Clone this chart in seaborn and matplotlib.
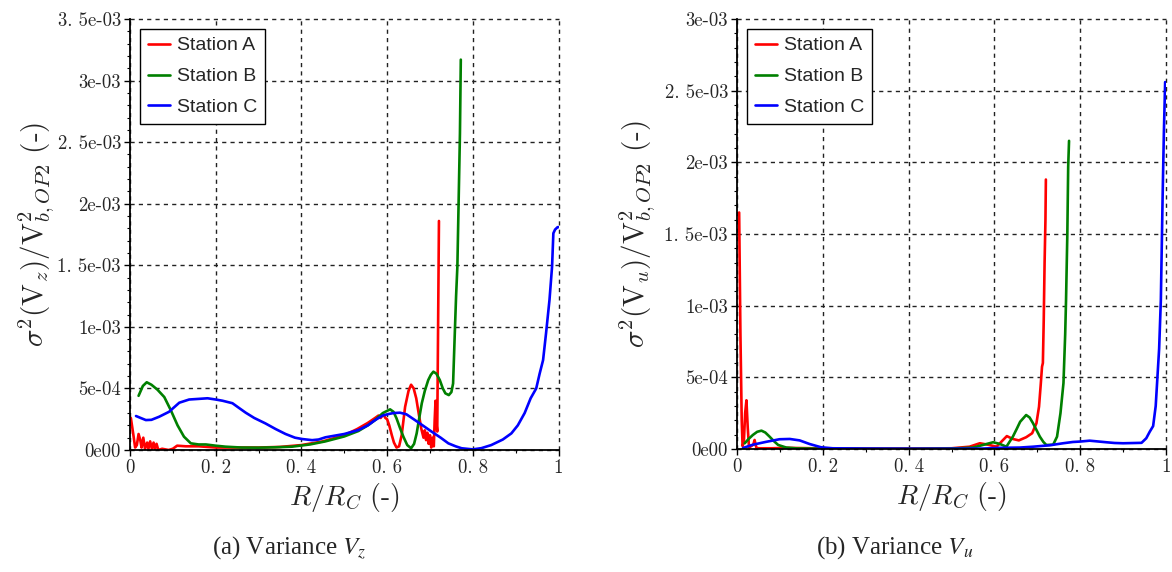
import numpy as np
import pandas as pd
import matplotlib
matplotlib.use("Agg")
import matplotlib.pyplot as plt
from matplotlib.ticker import FixedLocator, MultipleLocator, FixedFormatter
import seaborn as sns

# ---------------- data (variance values in units of 1e-3) ----------------
stations = ["Station A", "Station B", "Station C"]
colors = ["#ff0000", "#008000", "#0000ff"]

vz_a_r = [0.002, 0.008, 0.012, 0.016, 0.020, 0.024, 0.027, 0.031, 0.035, 0.040, 0.043, 0.047,
          0.051, 0.055, 0.058, 0.062, 0.066, 0.075, 0.090, 0.100, 0.110, 0.130, 0.160, 0.200,
          0.250, 0.300, 0.350, 0.400, 0.450, 0.500, 0.530, 0.555, 0.572, 0.580, 0.585, 0.591,
          0.596, 0.600, 0.605, 0.611, 0.616, 0.622, 0.628, 0.634, 0.642, 0.650, 0.656, 0.662,
          0.668, 0.675, 0.680, 0.685, 0.688, 0.691, 0.694, 0.697, 0.700, 0.703, 0.706, 0.709,
          0.711, 0.713, 0.715, 0.717, 0.719, 0.721]
vz_a_v = [0.26, 0.12, 0.02, 0.04, 0.13, 0.08, 0.02, 0.10, 0.01, 0.06, 0.01, 0.07,
          0.01, 0.06, 0.01, 0.05, 0.00, 0.01, 0.00, 0.01, 0.035, 0.03, 0.03, 0.02,
          0.02, 0.02, 0.025, 0.04, 0.07, 0.12, 0.17, 0.22, 0.26, 0.28, 0.26, 0.29,
          0.26, 0.25, 0.20, 0.12, 0.06, 0.02, 0.03, 0.12, 0.35, 0.48, 0.53, 0.50,
          0.42, 0.27, 0.17, 0.10, 0.16, 0.08, 0.14, 0.05, 0.12, 0.02, 0.10, 0.03,
          0.24, 0.40, 0.22, 0.15, 1.00, 1.86]

vz_b_r = [0.020, 0.030, 0.039, 0.050, 0.064, 0.080, 0.095, 0.111, 0.126, 0.142, 0.160, 0.177,
          0.200, 0.223, 0.260, 0.300, 0.340, 0.378, 0.420, 0.456, 0.500, 0.533, 0.555, 0.572,
          0.590, 0.607, 0.615, 0.622, 0.630, 0.638, 0.647, 0.656, 0.663, 0.669, 0.675, 0.681,
          0.688, 0.696, 0.702, 0.708, 0.715, 0.723, 0.730, 0.736, 0.744, 0.750, 0.754, 0.758,
          0.761, 0.764, 0.767, 0.770, 0.772]
vz_b_v = [0.44, 0.52, 0.55, 0.53, 0.49, 0.43, 0.325, 0.20, 0.108, 0.054, 0.045, 0.045,
          0.035, 0.027, 0.020, 0.019, 0.022, 0.027, 0.045, 0.070, 0.11, 0.154, 0.20, 0.243,
          0.30, 0.33, 0.31, 0.257, 0.18, 0.108, 0.04, 0.014, 0.05, 0.135, 0.26, 0.38,
          0.48, 0.568, 0.61, 0.636, 0.62, 0.568, 0.50, 0.46, 0.446, 0.47, 0.54, 0.95,
          1.25, 1.49, 2.03, 2.57, 3.17]

vz_c_r = [0.014, 0.025, 0.037, 0.050, 0.068, 0.091, 0.115, 0.138, 0.160, 0.181, 0.200, 0.216,
          0.239, 0.255, 0.270, 0.290, 0.316, 0.340, 0.363, 0.385, 0.402, 0.425, 0.440, 0.456,
          0.500, 0.533, 0.555, 0.572, 0.590, 0.603, 0.615, 0.630, 0.645, 0.665, 0.685, 0.704,
          0.725, 0.743, 0.760, 0.774, 0.800, 0.820, 0.843, 0.870, 0.890, 0.905, 0.921, 0.935,
          0.948, 0.956, 0.964, 0.971, 0.979, 0.985, 0.988, 0.992, 0.998, 1.000]
vz_c_v = [0.276, 0.26, 0.243, 0.245, 0.27, 0.31, 0.384, 0.41, 0.415, 0.42, 0.41, 0.40,
          0.38, 0.34, 0.303, 0.26, 0.216, 0.17, 0.13, 0.10, 0.089, 0.08, 0.085, 0.103,
          0.13, 0.162, 0.20, 0.243, 0.28, 0.292, 0.30, 0.303, 0.29, 0.243, 0.195, 0.149,
          0.10, 0.054, 0.03, 0.014, 0.005, 0.015, 0.04, 0.085, 0.135, 0.20, 0.30, 0.42,
          0.50, 0.62, 0.73, 0.95, 1.22, 1.49, 1.76, 1.79, 1.81, 1.81]

vu_a_r = [0.005, 0.008, 0.011, 0.013, 0.016, 0.019, 0.022, 0.025, 0.028, 0.033, 0.038, 0.041,
          0.045, 0.050, 0.080, 0.120, 0.200, 0.300, 0.400, 0.500, 0.542, 0.566, 0.585, 0.605,
          0.616, 0.629, 0.643, 0.657, 0.674, 0.688, 0.698, 0.704, 0.708, 0.711, 0.713, 0.715,
          0.717, 0.719, 0.720]
vu_a_v = [1.65, 0.80, 0.20, 0.02, 0.05, 0.25, 0.34, 0.15, 0.01, 0.02, 0.03, 0.063,
          0.01, 0.005, 0.005, 0.008, 0.004, 0.003, 0.003, 0.005, 0.016, 0.04, 0.03, 0.016,
          0.05, 0.09, 0.07, 0.06, 0.082, 0.11, 0.18, 0.295, 0.45, 0.574, 0.60, 0.90,
          1.30, 1.60, 1.88]

vu_b_r = [0.018, 0.027, 0.037, 0.047, 0.057, 0.066, 0.076, 0.086, 0.096, 0.115, 0.140, 0.200,
          0.300, 0.400, 0.500, 0.550, 0.573, 0.597, 0.612, 0.628, 0.643, 0.652, 0.660, 0.674,
          0.682, 0.690, 0.706, 0.714, 0.721, 0.737, 0.746, 0.754, 0.761, 0.765, 0.767, 0.770,
          0.772, 0.774]
vu_b_v = [0.04, 0.07, 0.098, 0.12, 0.128, 0.115, 0.086, 0.055, 0.028, 0.01, 0.004, 0.002,
          0.001, 0.001, 0.003, 0.01, 0.028, 0.047, 0.036, 0.016, 0.086, 0.14, 0.19, 0.237,
          0.22, 0.18, 0.086, 0.05, 0.028, 0.03, 0.086, 0.25, 0.46, 0.80, 1.04, 1.50,
          1.97, 2.15]

vu_c_r = [0.014, 0.037, 0.068, 0.099, 0.123, 0.146, 0.169, 0.196, 0.223, 0.300, 0.400, 0.500,
          0.573, 0.612, 0.659, 0.690, 0.729, 0.760, 0.783, 0.800, 0.822, 0.840, 0.861, 0.880,
          0.900, 0.943, 0.954, 0.962, 0.970, 0.976, 0.980, 0.984, 0.988, 0.992, 0.995, 0.998]
vu_c_v = [0.007, 0.03, 0.05, 0.068, 0.07, 0.06, 0.035, 0.012, 0.005, 0.003, 0.002, 0.002,
          0.003, 0.008, 0.01, 0.016, 0.026, 0.04, 0.049, 0.052, 0.058, 0.053, 0.047, 0.042,
          0.04, 0.043, 0.075, 0.12, 0.16, 0.30, 0.50, 0.70, 1.04, 1.74, 2.20, 2.56]

x_ticks = [0.0, 0.2, 0.4, 0.6, 0.8, 1.0]
x_ticklabels = ["0", "0. 2", "0. 4", "0. 6", "0. 8", "1"]
yz_ticks = [0.0, 0.5e-3, 1.0e-3, 1.5e-3, 2.0e-3, 2.5e-3, 3.0e-3, 3.5e-3]
yz_ticklabels = ["0e00", "5e-04", "1e-03", "1. 5e-03", "2e-03", "2. 5e-03", "3e-03", "3. 5e-03"]
yu_ticks = [0.0, 0.5e-3, 1.0e-3, 1.5e-3, 2.0e-3, 2.5e-3, 3.0e-3]
yu_ticklabels = ["0e00", "5e-04", "1e-03", "1. 5e-03", "2e-03", "2. 5e-03", "3e-03"]
SCALE = 1e-3


def make_frame(parts):
    rows = []
    for name, rr, vv in parts:
        for r, v in zip(rr, vv):
            rows.append({"station": name, "r": r, "var": v * SCALE})
    return pd.DataFrame(rows)


df_z = make_frame([(stations[0], vz_a_r, vz_a_v), (stations[1], vz_b_r, vz_b_v),
                   (stations[2], vz_c_r, vz_c_v)])
df_u = make_frame([(stations[0], vu_a_r, vu_a_v), (stations[1], vu_b_r, vu_b_v),
                   (stations[2], vu_c_r, vu_c_v)])

sns.set_style("white")
plt.rcParams["mathtext.fontset"] = "cm"
plt.rcParams["font.family"] = ["DejaVu Sans"]
plt.rcParams["axes.unicode_minus"] = False

W, H = 1172, 572
fig = plt.figure(figsize=(W / 100, H / 100), dpi=100)
ax1 = fig.add_axes([130 / W, 1 - 450 / H, 428.5 / W, 431 / H])
ax2 = fig.add_axes([737 / W, 1 - 449 / H, 429 / W, 430 / H])

palette = dict(zip(stations, colors))

configs = [
    (ax1, df_z, yz_ticks, yz_ticklabels, r"$\sigma^2(\mathrm{V}_z)/\mathrm{V}^2_{b,OP2}$ (-)", -0.218,
     "(a) Variance $V_z$", 289),
    (ax2, df_u, yu_ticks, yu_ticklabels, r"$\sigma^2(\mathrm{V}_u)/\mathrm{V}^2_{b,OP2}$ (-)", -0.230,
     "(b) Variance $V_u$", 895),
]

for ax, df, yt, ytl, ylab, ylx, cap, capx in configs:
    sns.lineplot(data=df, x="r", y="var", hue="station", palette=palette, ax=ax,
                 estimator=None, sort=False, linewidth=1.9)
    ax.set_xlim(0, 1)
    ax.set_ylim(yt[0], yt[-1])
    ax.xaxis.set_major_locator(FixedLocator(x_ticks))
    ax.xaxis.set_major_formatter(FixedFormatter(x_ticklabels))
    ax.xaxis.set_minor_locator(MultipleLocator(0.1))
    ax.yaxis.set_major_locator(FixedLocator(yt))
    ax.yaxis.set_major_formatter(FixedFormatter(ytl))
    ax.yaxis.set_minor_locator(MultipleLocator(1e-4))
    for lab in ax.get_xticklabels() + ax.get_yticklabels():
        lab.set_fontfamily("cmr10")
        lab.set_fontsize(13.5)
    ax.tick_params(which="major", direction="out", length=4.5, width=1.0, pad=2,
                   bottom=True, left=True, top=False, right=False, color="black")
    ax.tick_params(which="minor", direction="out", length=2.5, width=0.8,
                   bottom=True, left=True, top=False, right=False, color="black")
    ax.grid(True, which="major", color="#222222", linestyle=(0, (3, 3)), linewidth=1.0)
    for gl in ax.get_xgridlines() + ax.get_ygridlines():
        gl.set_clip_on(False)
    for side in ["top", "right"]:
        ax.spines[side].set_visible(False)
    for side in ["left", "bottom"]:
        ax.spines[side].set_color("black")
        ax.spines[side].set_linewidth(1.3)
    ax.set_xlabel(r"$R/R_C$ (-)", fontfamily="cmr10", fontsize=20)
    ax.xaxis.set_label_coords(0.5, -48 / 431)
    ax.xaxis.label.set_va("center")
    ax.set_ylabel(ylab, fontfamily="cmr10", fontsize=21)
    ax.yaxis.set_label_coords(ylx, 0.5)
    ax.yaxis.label.set_va("center")
    leg = ax.legend(loc="upper left", prop={"family": "Liberation Sans", "size": 14},
                    frameon=True, fancybox=False, framealpha=1, edgecolor="black",
                    handlelength=1.15, handletextpad=0.35, labelspacing=0.68,
                    borderpad=0.42, borderaxespad=0.5, title=None)
    leg.get_frame().set_linewidth(1.0)
    fig.text(capx / W, 1 - 548 / H, cap, ha="center", va="center",
             fontfamily="Liberation Serif", fontsize=18, math_fontfamily="stix")

fig.savefig("out.png", dpi=100)
